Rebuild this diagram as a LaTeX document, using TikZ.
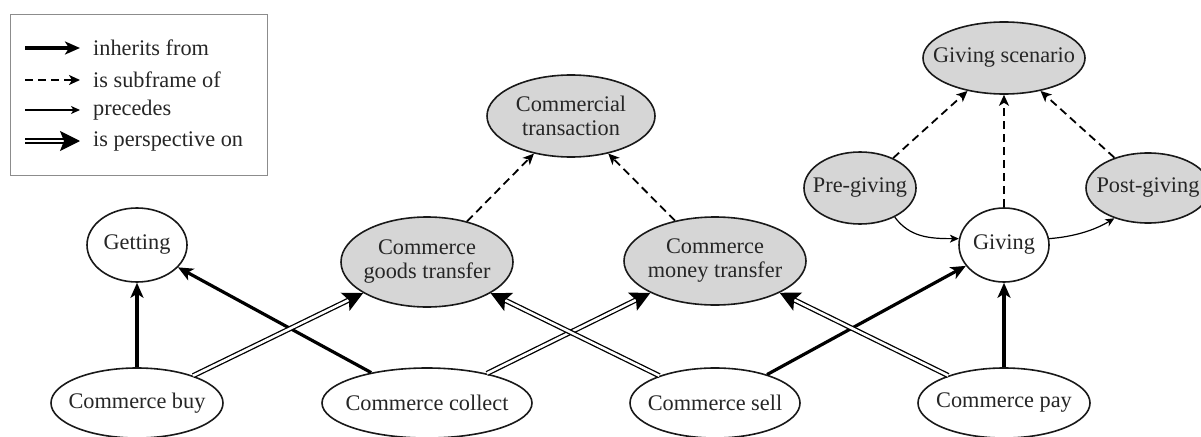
\documentclass[tikz,border=0pt]{standalone}
\usepackage{fontspec}
\setmainfont{Liberation Serif}
\usetikzlibrary{arrows.meta,shapes.geometric}
\begin{document}
\begin{tikzpicture}[x=1pt,y=-1pt,
  every node/.style={font=\fontsize{22.3}{24}\selectfont, text=black!85},
  frame/.style={ellipse, draw=black!90, line width=1.6pt, inner sep=0pt},
  grey/.style={frame, fill=black!16},
  plain/.style={frame, fill=white},
  caption/.style={label={[align=center]center:#1}},
  inherits/.style={-{Stealth[length=15pt,width=13pt,inset=4pt]}, line width=3.2pt},
  subframe/.style={-{Stealth[length=11pt,width=10pt,inset=3pt]}, line width=1.8pt, dash pattern=on 8pt off 5pt},
  precedes/.style={-{Stealth[length=9pt,width=8pt,inset=2.5pt]}, line width=1.2pt},
  perspective/.style={-{Stealth[length=20pt,width=20pt,inset=4pt]}, double, line width=1.3pt, double distance=2.6pt},
]
\useasboundingbox (0,0) rectangle (1201,436);

% legend
\node[draw=black!45, line width=1pt, minimum width=257pt, minimum height=160pt, inner sep=0pt] (legend) at (138.5,95) {};
\coordinate (la1) at (25,48);  \coordinate (lb1) at (80,48);
\coordinate (la2) at (25,80);  \coordinate (lb2) at (80,80);
\coordinate (la3) at (25,110); \coordinate (lb3) at (80,110);
\coordinate (la4) at (25,141); \coordinate (lb4) at (80,141);
\draw[inherits] (la1) -- (lb1);
\draw[subframe] (la2) -- (lb2);
\draw[precedes] (la3) -- (lb3);
\draw[perspective] (la4) -- (lb4);
\node[anchor=west, inner sep=0pt] (t1) at (93,48) {inherits from};
\node[anchor=west, inner sep=0pt] (t2) at (93,80) {is subframe of};
\node[anchor=west, inner sep=0pt] (t3) at (93,110) {precedes};
\node[anchor=west, inner sep=0pt] (t4) at (93,141) {is perspective on};

% frames
\node[grey, minimum width=168pt, minimum height=82pt, caption={Commercial\\transaction}] (trans) at (571,116) {};
\node[grey, minimum width=162pt, minimum height=72pt, caption={Giving scenario}] (scen) at (1004,58) {};
\node[grey, minimum width=112pt, minimum height=72pt, caption={Pre-giving}] (pre) at (860,188) {};
\node[grey, minimum width=124pt, minimum height=70pt, caption={Post-giving}] (post) at (1148,188) {};
\node[plain, minimum width=100pt, minimum height=74pt, caption={Getting}] (getting) at (137,245) {};
\node[grey, minimum width=172pt, minimum height=90pt, caption={Commerce\\goods transfer}] (goods) at (427,262) {};
\node[grey, minimum width=182pt, minimum height=88pt, caption={Commerce\\money transfer}] (money) at (715,261) {};
\node[plain, minimum width=90pt, minimum height=74pt, caption={Giving}] (giving) at (1004,245) {};
\node[plain, minimum width=172pt, minimum height=70pt, caption={Commerce buy}] (buy) at (137,403) {};
\node[plain, minimum width=210pt, minimum height=70pt, caption={Commerce collect}] (collect) at (427,403) {};
\node[plain, minimum width=170pt, minimum height=70pt, caption={Commerce sell}] (sell) at (715,403) {};
\node[plain, minimum width=172pt, minimum height=70pt, caption={Commerce pay}] (pay) at (1004,403) {};

% inheritance
\draw[inherits] (buy) -- (getting);
\draw[inherits] (collect) -- (getting);
\draw[inherits] (sell) -- (giving);
\draw[inherits] (pay) -- (giving);

% perspectives
\draw[perspective] (buy) -- (goods);
\draw[perspective] (collect) -- (money);
\draw[perspective] (sell) -- (goods);
\draw[perspective] (pay) -- (money);

% subframes
\draw[subframe] (goods) -- (trans);
\draw[subframe] (money) -- (trans);
\draw[subframe] (pre) -- (scen);
\draw[subframe] (giving) -- (scen);
\draw[subframe] (post) -- (scen);

% precedence
\draw[precedes] (pre.-40) .. controls +(15,20) and +(-30,0) .. (giving.172);
\draw[precedes] (giving.8) .. controls +(25,-2) and +(-20,12) .. (post.-138);
\end{tikzpicture}
\end{document}
